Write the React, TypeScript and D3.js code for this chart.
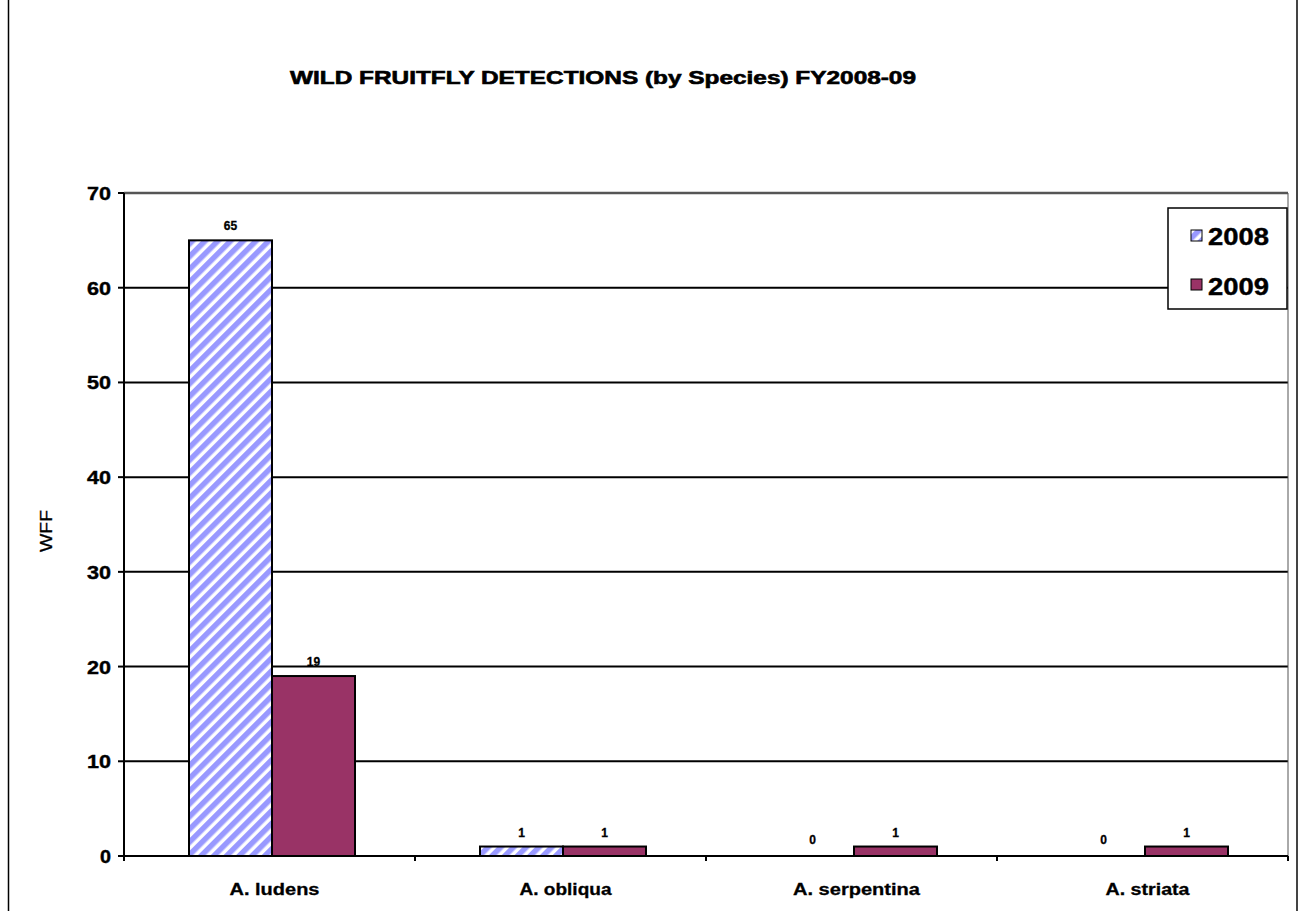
import React from "react";
import * as d3 from "d3";

const categories = ["A. ludens", "A. obliqua", "A. serpentina", "A. striata"];
const series2008 = [65, 1, 0, 0];
const series2009 = [19, 1, 1, 1];
const seriesNames = ["2008", "2009"];
const yTicks = [0, 10, 20, 30, 40, 50, 60, 70];
const title = "WILD FRUITFLY DETECTIONS (by Species) FY2008-09";
const yLabel = "WFF";

export default function App() {
  const W = 1302, H = 911;
  const left = 124, right = 1288, top = 193, bottom = 856;
  const x0 = d3.scaleBand<string>().domain(categories).range([left, right]).paddingInner(0).paddingOuter(0);
  const x1 = d3.scaleBand<string>().domain(seriesNames).range([65, 231]);
  const y = d3.scaleLinear().domain([0, 70]).range([bottom, top]);
  const data = [series2008, series2009];
  const font = "'Liberation Sans', Arial, sans-serif";
  const labelLen = [90, 92, 127, 84];

  return (
    <svg width={W} height={H} style={{ position: "absolute", left: 0, top: 0, background: "#fff" }} fontFamily={font}>
      <defs>
        <pattern id="stripe" patternUnits="userSpaceOnUse" width="9" height="9" patternTransform="rotate(45)">
          <rect width="9" height="9" fill="#ffffff" />
          <rect width="5.5" height="9" fill="#9999ff" />
        </pattern>
      </defs>
      <rect width={W} height={H} fill="#fff" />
      <line x1={8.5} x2={8.5} y1={0} y2={H} stroke="#000" strokeWidth={1.5} />
      <line x1={1297} x2={1297} y1={0} y2={H} stroke="#444" strokeWidth={2} />

      <text x={603} y={84} textAnchor="middle" fontWeight="bold" fontSize={18} stroke="#000" strokeWidth={0.6} textLength={626} lengthAdjust="spacingAndGlyphs">{title}</text>

      {yTicks.map(t => (
        <g key={t}>
          <line x1={left} x2={right} y1={y(t)} y2={y(t)} stroke={t === 70 ? "#555" : "#000"} strokeWidth={t === 70 ? 2.5 : 2} />
          <line x1={left - 6} x2={left} y1={y(t)} y2={y(t)} stroke="#000" strokeWidth={2} />
          <text x={111} y={y(t) + 7} textAnchor="end" fontWeight="bold" fontSize={18} stroke="#000" strokeWidth={0.4} textLength={t === 0 ? 11 : 24} lengthAdjust="spacingAndGlyphs">{t}</text>
        </g>
      ))}
      <line x1={right} x2={right} y1={top} y2={bottom} stroke="#555" strokeWidth={1} />

      {categories.map((c, i) => (
        <g key={c} transform={`translate(${x0(c)},0)`}>
          {data.map((s, k) => {
            const v = s[i];
            const bx = x1(seriesNames[k])!;
            const bw = x1.bandwidth();
            return (
              <g key={k}>
                {v > 0 && (
                  <rect x={bx} y={y(v)} width={bw} height={y(0) - y(v)} fill={k === 0 ? "url(#stripe)" : "#993366"} stroke="#000" strokeWidth={2} />
                )}
                <text x={bx + bw / 2} y={y(v) - (v === 0 ? 12 : 10)} textAnchor="middle" fontWeight="bold" fontSize={12} stroke="#000" strokeWidth={0.3}>{v}</text>
              </g>
            );
          })}
        </g>
      ))}

      <line x1={left} x2={left} y1={top} y2={bottom + 5} stroke="#000" strokeWidth={2} />
      <line x1={left} x2={right} y1={bottom} y2={bottom} stroke="#000" strokeWidth={2} />
      {categories.map((c, i) => (
        <line key={"t" + i} x1={x0(c)! + x0.bandwidth()} x2={x0(c)! + x0.bandwidth()} y1={bottom} y2={bottom + 5} stroke="#000" strokeWidth={2} />
      ))}
      {categories.map((c, i) => (
        <text key={"l" + c} x={x0(c)! + x0.bandwidth() / 2 + 5} y={895} textAnchor="middle" fontWeight="bold" fontSize={17} stroke="#000" strokeWidth={0.3} textLength={labelLen[i]} lengthAdjust="spacingAndGlyphs">{c}</text>
      ))}

      <text transform="translate(52,531) rotate(-90)" textAnchor="middle" fontSize={17} stroke="#000" strokeWidth={0.3} textLength={42} lengthAdjust="spacingAndGlyphs">{yLabel}</text>

      <rect x={1168} y={208} width={119} height={101} fill="#fff" stroke="#000" strokeWidth={1.5} />
      {seriesNames.map((s, k) => (
        <g key={s}>
          <rect x={1191} y={k === 0 ? 230 : 279} width={11} height={11} fill={k === 0 ? "url(#stripe)" : "#993366"} stroke="#000" strokeWidth={1} />
          <text x={1208} y={k === 0 ? 245 : 295} fontWeight="bold" fontSize={24} stroke="#000" strokeWidth={0.4} textLength={61} lengthAdjust="spacingAndGlyphs">{s}</text>
        </g>
      ))}
    </svg>
  );
}
